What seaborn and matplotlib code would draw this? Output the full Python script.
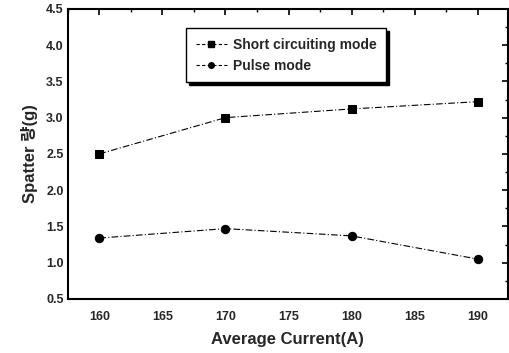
import matplotlib
matplotlib.use("Agg")
import matplotlib.pyplot as plt
import seaborn as sns
import pandas as pd
from matplotlib.ticker import MultipleLocator
from matplotlib.lines import Line2D

current = [160, 170, 180, 190]
short_circuit = [2.50, 3.00, 3.12, 3.22]
pulse = [1.34, 1.47, 1.37, 1.05]
series_names = ["Short circuiting mode", "Pulse mode"]

df = pd.DataFrame({
    "current": current * 2,
    "spatter": short_circuit + pulse,
    "mode": [series_names[0]] * 4 + [series_names[1]] * 4,
})

sns.set_style("white")
plt.rcParams['font.family'] = ['Liberation Sans', 'Noto Sans CJK KR', 'DejaVu Sans']

fig = plt.figure(figsize=(5.1, 3.53), dpi=100)
ax = fig.add_axes([0.133, 0.153, 0.863, 0.822])

sns.lineplot(data=df, x="current", y="spatter", hue="mode", style="mode",
             markers=["s", "o"], dashes=[(6, 2, 1, 2), (6, 2, 1, 2)],
             palette=["black", "black"], markersize=6, linewidth=0.8,
             markeredgecolor="black", ax=ax, legend=False)

ax.set_xlim(157.5, 192.4)
ax.set_ylim(0.5, 4.5)
ax.xaxis.set_major_locator(MultipleLocator(5))
ax.xaxis.set_minor_locator(MultipleLocator(2.5))
ax.yaxis.set_major_locator(MultipleLocator(0.5))
ax.yaxis.set_minor_locator(MultipleLocator(0.25))
ax.tick_params(which="both", direction="in", top=True, right=True,
               labeltop=False, labelright=False, color="black")
ax.tick_params(which="major", length=4, width=1.2)
ax.tick_params(which="minor", length=2.5, width=1)
ax.tick_params(axis="x", pad=9)
ax.tick_params(axis="y", pad=3)
for s in ax.spines.values():
    s.set_color("black")
    s.set_linewidth(1.5)

for lab in ax.get_xticklabels() + ax.get_yticklabels():
    lab.set_fontsize(9)
    lab.set_fontweight("bold")

ax.set_xlabel("Average Current(A)", fontsize=12, fontweight="bold", labelpad=6)
ax.set_ylabel("Spatter 량(g)", fontsize=12, fontweight="bold", labelpad=6)

handles = [Line2D([], [], color="black", marker="s", dashes=(3, 2), linewidth=0.8, markersize=4),
           Line2D([], [], color="black", marker="o", dashes=(3, 2), linewidth=0.8, markersize=4)]
leg = ax.legend(handles, series_names, loc="upper left", bbox_to_anchor=(0.268, 0.934),
                frameon=True, fancybox=False, shadow={"color": "black", "alpha": 1},
                handlelength=2.3, borderpad=0.7, labelspacing=0.5, borderaxespad=0,
                handletextpad=0.4,
                prop={"weight": "bold", "size": 10})
leg.get_frame().set_edgecolor("black")
leg.get_frame().set_linewidth(1.0)

fig.savefig("out.png", dpi=100)
